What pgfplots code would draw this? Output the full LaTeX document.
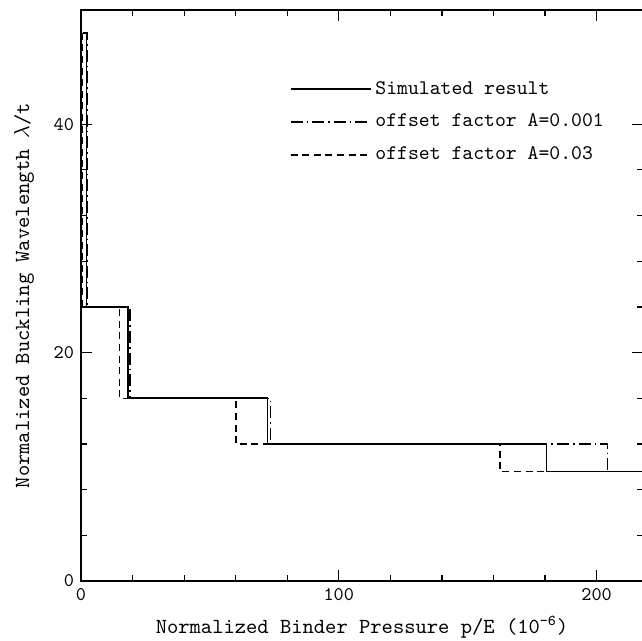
\documentclass[border=0pt]{standalone}
\usepackage{pgfplots}
\pgfplotsset{compat=1.18}
\renewcommand{\familydefault}{\ttdefault}
\begin{document}
\begin{tikzpicture}[x=1bp,y=1bp]
\useasboundingbox (-40.5,-30) rectangle (280.5,290.5);
\begin{axis}[
  at={(0,0)}, anchor=south west,
  scale only axis,
  width=281bp, height=285.5bp,
  xmin=0, xmax=218, ymin=0, ymax=50,
  xtick={0,100,200}, ytick={0,20,40},
  minor x tick num=4, minor y tick num=4,
  major tick length=5.5bp, minor tick length=3bp,
  tick pos=both, tick align=inside,
  axis line style={line width=0.9pt},
  every tick/.style={line width=0.6pt},
  tick label style={font=\fontsize{9.7}{11}\selectfont\ttfamily},
  /pgf/number format/assume math mode=true,
  xlabel={Normalized Binder Pressure p/E (10\textsuperscript{-6})},
  ylabel={Normalized Buckling Wavelength $\lambda$/t},
  label style={font=\fontsize{10.8}{12}\selectfont\ttfamily},
  xlabel style={at={(axis description cs:0.5,0)}, anchor=north, yshift=-14bp},
  ylabel style={at={(axis description cs:0,0.5)}, anchor=south, yshift=20bp},
  legend style={draw=none, fill=none, at={(0.36,0.89)}, anchor=north west,
    font=\fontsize{10.4}{12}\selectfont\ttfamily, row sep=4.5bp, legend cell align=left},
  legend image code/.code={\draw[#1] (0bp,0bp) -- (35bp,0bp); \path (0bp,0bp) -- (40bp,0bp);},
]
\addplot[black, line width=0.85pt] coordinates {
 (0.6,48) (2.1,48) (2.1,24) (18.1,24) (18.1,16) (72.3,16) (72.3,12) (180.6,12) (180.6,9.6) (218,9.6)};
\addlegendentry{Simulated result}
\addplot[black, line width=0.7pt, dash pattern=on 6bp off 2bp on 0.8bp off 2bp] coordinates {
 (0.6,48) (2.4,48) (2.4,24) (19.0,24) (19.0,16) (73.6,16) (73.6,12) (204.3,12) (204.3,9.6) (218,9.6)};
\addlegendentry{offset factor A=0.001}
\addplot[black, line width=0.7pt, dash pattern=on 3.5bp off 2.3bp] coordinates {
 (0.6,48) (0.6,24) (14.9,24) (14.9,16) (60.1,16) (60.1,12) (162.5,12) (162.5,9.6) (218,9.6)};
\addlegendentry{offset factor A=0.03}
\end{axis}
\end{tikzpicture}
\end{document}
